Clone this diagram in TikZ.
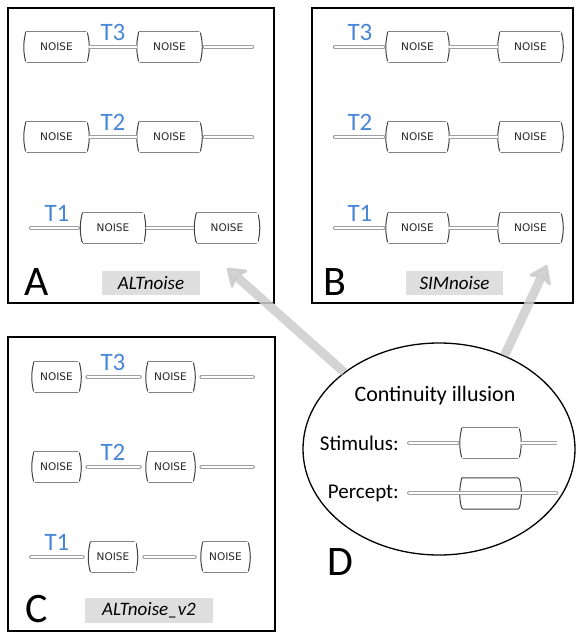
\documentclass[tikz,border=0pt]{standalone}
\usepackage{fontspec}
\setmainfont{Carlito}
\newfontfamily\noisefont{DejaVu Sans}
\usetikzlibrary{shapes.geometric,arrows.meta,positioning}
\definecolor{tblue}{RGB}{74,134,216}
\tikzstyle{panel} = [draw=black, line width=2.5pt]
\tikzstyle{noise} = [inner sep=0pt, minimum width=61pt, minimum height=30pt, fill=white, text=black!85, font=\noisefont\fontsize{10.5}{10.5}\selectfont,
  append after command={\pgfextra{\draw[black!75, line width=1pt, rounded corners=1.5pt] (\tikzlastnode.north west) -- (\tikzlastnode.north east) to[bend left=13] (\tikzlastnode.south east) -- (\tikzlastnode.south west) to[bend left=13] (\tikzlastnode.north west);}}]
\tikzstyle{noisec} = [noise, minimum width=45pt]
\tikzstyle{wirebase} = [draw=gray!75, line width=1.1pt, double=white, double distance=2.4pt]
\tikzstyle{wire} = [wirebase, shorten <=2pt, shorten >=2pt]
\tikzstyle{wirein} = [wirebase, line cap=round, shorten >=4.5pt]
\tikzstyle{wireout} = [wirebase, line cap=round, shorten <=4.5pt]
\tikzstyle{gapwire} = [wirebase, line cap=round, shorten <=8.5pt, shorten >=8.3pt]
\tikzstyle{tlabel} = [text=tblue, inner sep=0pt, font=\fontsize{25}{25}\selectfont]
\tikzstyle{letter} = [inner sep=0pt, font=\fontsize{42}{42}\selectfont]
\tikzstyle{tag} = [fill=black!13, minimum height=24pt, inner sep=0pt, font=\itshape\fontsize{19}{19}\selectfont]
\tikzstyle{pointer} = [draw=gray!40, line width=9pt, opacity=0.85, -{Stealth[length=20pt, width=28pt, inset=5pt, round, line width=3pt]}]

\begin{document}
\begin{tikzpicture}[x=1pt, y=-1pt]
\useasboundingbox (0,0) rectangle (576,633);

\draw[panel] (8,8) rectangle (274,303);
\foreach \y/\t in {47/3,137/2}{
  \node[noise] (a\t l) at (56.5,\y) {NOISE};
  \node[noise] (a\t r) at (169.5,\y) {NOISE};
  \coordinate (a\t e) at (252,\y);
  \draw[wire] (a\t l) -- (a\t r);
  \draw[wireout] (a\t r) -- (a\t e);
  \node[tlabel] (a\t t) at (113,\y-15) {T\t};
}
\coordinate (a1s) at (31,228);
\node[noise] (a1l) at (113,228) {NOISE};
\node[noise] (a1r) at (227,228) {NOISE};
\draw[wirein] (a1s) -- (a1l);
\draw[wire] (a1l) -- (a1r);
\node[tlabel] (a1t) at (57,213) {T1};
\node[letter] (la) at (37,282) {A};
\node[tag, minimum width=98pt] (taga) at (151,283) {ALTnoise};

\draw[panel] (312,8) rectangle (573,303);
\foreach \y/\t in {47/3,137/2,228/1}{
  \coordinate (b\t s) at (335,\y);
  \node[noise, minimum width=59pt] (b\t l) at (417.5,\y) {NOISE};
  \node[noise] (b\t r) at (530.5,\y) {NOISE};
  \draw[wirein] (b\t s) -- (b\t l);
  \draw[wire] (b\t l) -- (b\t r);
  \node[tlabel] (b\t t) at (360,\y-15) {T\t};
}
\node[letter] (lb) at (335,282) {B};
\node[tag, minimum width=97pt] (tagb) at (454.5,283) {SIMnoise};

\draw[panel] (8,337) rectangle (275,631);
\foreach \y/\t in {377/3,467/2}{
  \node[noisec] (c\t l) at (56.5,\y) {NOISE};
  \node[noisec] (c\t r) at (170.5,\y) {NOISE};
  \coordinate (c\t e) at (252.7,\y);
  \draw[gapwire] (c\t l) -- (c\t r);
  \draw[gapwire, shorten >=0pt] (c\t r) -- (c\t e);
  \node[tlabel] (c\t t) at (113,\y-15) {T\t};
}
\coordinate (c1s) at (31.3,557);
\node[noisec] (c1l) at (113,557) {NOISE};
\node[noisec] (c1r) at (225.5,557) {NOISE};
\draw[gapwire, shorten <=0pt, shorten >=7.8pt] (c1s) -- (c1l);
\draw[gapwire, shorten <=8.8pt] (c1l) -- (c1r);
\node[tlabel] (c1t) at (57,542) {T1};
\node[letter] (lc) at (37,609) {C};
\node[tag, minimum width=128pt, minimum height=25pt] (tagc) at (149,610.5) {ALTnoise\_v2};

\node[ellipse, draw, line width=1.3pt, minimum width=272pt, minimum height=212pt] (ill) at (439,449) {};
\node[font=\fontsize{22}{22}\selectfont] (ttl) at (435,396) {Continuity illusion};
\node[anchor=east, inner sep=0pt, font=\fontsize{21}{21}\selectfont] (stim) at (399,443) {Stimulus:};
\node[anchor=east, inner sep=0pt, font=\fontsize{21}{21}\selectfont] (perc) at (399,493) {Percept:};
\coordinate (s0) at (409.3,443);
\coordinate (s1) at (557,443);
\node[noise, minimum width=57pt] (sbox) at (490.5,443) {};
\draw[wirein] (s0) -- (sbox);
\draw[wire, shorten >=0pt] (sbox) -- (s1);
\coordinate (p0) at (409.3,493);
\coordinate (p1) at (556,493);
\node[noise, fill=none, minimum width=57pt, minimum height=31pt] (pbox) at (490.5,493.5) {};
\draw[wirebase, line cap=round] (p0) -- (p1);
\node[letter] (ld) at (340,562) {D};

\coordinate (tipa) at (227,268);
\coordinate (tipb) at (547,265);
\draw[pointer] (ill.141) -- (tipa);
\draw[pointer] (ill.55) -- (tipb);
\end{tikzpicture}
\end{document}
